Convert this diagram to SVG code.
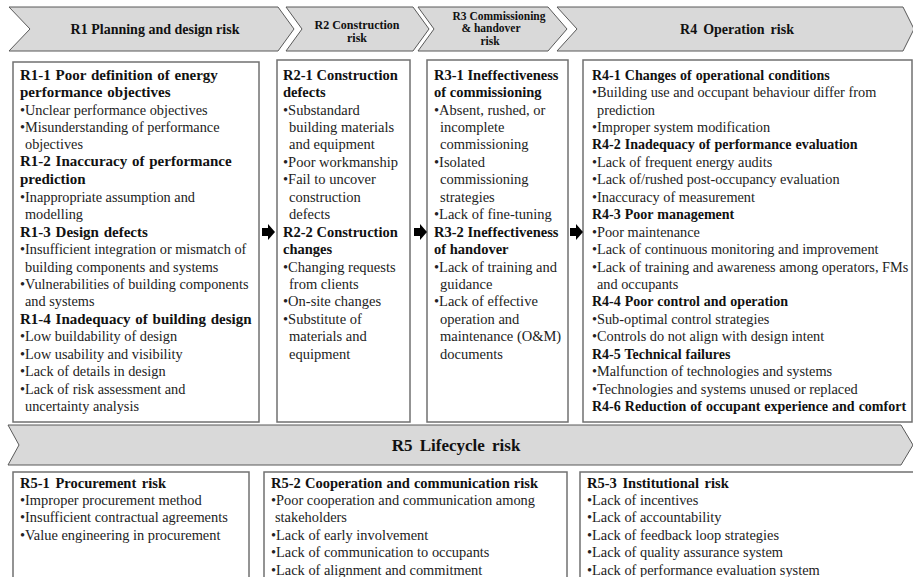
<svg xmlns="http://www.w3.org/2000/svg" width="913" height="577" viewBox="0 0 913 577">
<style>
.chev{fill:#d9d9d9;stroke:#595959;stroke-width:1}
.box{fill:#fff;stroke:#707070;stroke-width:1.5}
text{font-family:"Liberation Serif","Times New Roman",serif;fill:#111}
.ht{font-weight:bold;font-size:13.5px;text-anchor:middle}
.hs{font-weight:bold;font-size:12px;text-anchor:middle}
.h{font-weight:bold;font-size:15px;word-spacing:1px}
.h4{font-weight:bold;font-size:14px;word-spacing:0.5px}
.b{font-size:14.3px;fill:#222}
.h2{font-weight:bold;font-size:14.5px}
.b2{font-size:14.5px;fill:#222}
.h5{font-weight:bold;font-size:14.5px;word-spacing:2px}
.b5{font-size:14.4px;fill:#222}
.arr{fill:#000}
</style>
<rect width="913" height="577" fill="#fff"/>
<g id="R1-head"><path class="chev" d="M9,7 L278,7 L294,29 L278,51 L9,51 L30,29 Z"/><text class="ht" x="155" y="34" style="font-size:14px">R1 Planning and design risk</text></g>
<g id="R2-head"><path class="chev" d="M286,7 L413,7 L429,29 L413,51 L286,51 L302,29 Z"/><text class="hs" x="357" y="29">R2 Construction</text><text class="hs" x="357" y="42">risk</text></g>
<g id="R3-head"><path class="chev" d="M418,7 L548,7 L567,29 L548,51 L418,51 L434,29 Z"/><text class="hs" x="499" y="20" style="font-size:11.5px">R3 Commissioning</text><text class="hs" x="491" y="32" style="font-size:11.5px">&amp; handover</text><text class="hs" x="490" y="45" style="font-size:11.5px">risk</text></g>
<g id="R4-head"><path class="chev" d="M557,7 L903,7 L914,29 L903,51 L557,51 L577,29 Z"/><text class="ht" x="737" y="34" style="font-size:14px;word-spacing:2.5px">R4 Operation risk</text></g>

<g id="R1">
<rect class="box" x="13" y="62" width="246" height="360"/>
<text x="20"><tspan class="h" y="80">R1-1 Poor definition of energy</tspan><tspan class="h" x="20" y="97">performance objectives</tspan>
<tspan class="b" x="20" y="115">•Unclear performance objectives</tspan>
<tspan class="b" x="20" y="132">•Misunderstanding of performance</tspan>
<tspan class="b" x="25" y="149">objectives</tspan>
<tspan class="h" x="20" y="166">R1-2 Inaccuracy of performance</tspan>
<tspan class="h" x="20" y="184">prediction</tspan>
<tspan class="b" x="20" y="202">•Inappropriate assumption and</tspan>
<tspan class="b" x="25" y="219">modelling</tspan>
<tspan class="h" x="20" y="237">R1-3 Design defects</tspan>
<tspan class="b" x="20" y="254">•Insufficient integration or mismatch of</tspan>
<tspan class="b" x="25" y="272">building components and systems</tspan>
<tspan class="b" x="20" y="289">•Vulnerabilities of building components</tspan>
<tspan class="b" x="25" y="306">and systems</tspan>
<tspan class="h" x="20" y="324">R1-4 Inadequacy of building design</tspan>
<tspan class="b" x="20" y="341">•Low buildability of design</tspan>
<tspan class="b" x="20" y="359">•Low usability and visibility</tspan>
<tspan class="b" x="20" y="376">•Lack of details in design</tspan>
<tspan class="b" x="20" y="394">•Lack of risk assessment and</tspan>
<tspan class="b" x="25" y="411">uncertainty analysis</tspan></text>
</g>

<g id="R2">
<rect class="box" x="277" y="60" width="133" height="362"/>
<text x="283"><tspan class="h2" y="80">R2-1 Construction</tspan><tspan class="h2" x="283" y="97">defects</tspan>
<tspan class="b2" x="283" y="115">•Substandard</tspan>
<tspan class="b2" x="289" y="132">building materials</tspan>
<tspan class="b2" x="289" y="149">and equipment</tspan>
<tspan class="b2" x="283" y="167">•Poor workmanship</tspan>
<tspan class="b2" x="283" y="184">•Fail to uncover</tspan>
<tspan class="b2" x="289" y="202">construction</tspan>
<tspan class="b2" x="289" y="219">defects</tspan>
<tspan class="h2" x="283" y="237">R2-2 Construction</tspan>
<tspan class="h2" x="283" y="254">changes</tspan>
<tspan class="b2" x="283" y="272">•Changing requests</tspan>
<tspan class="b2" x="289" y="289">from clients</tspan>
<tspan class="b2" x="283" y="306">•On-site changes</tspan>
<tspan class="b2" x="283" y="324">•Substitute of</tspan>
<tspan class="b2" x="289" y="341">materials and</tspan>
<tspan class="b2" x="289" y="359">equipment</tspan></text>
</g>

<g id="R3">
<rect class="box" x="427" y="60" width="141" height="362"/>
<text x="434"><tspan class="h2" y="80">R3-1 Ineffectiveness</tspan><tspan class="h2" x="434" y="97">of commissioning</tspan>
<tspan class="b2" x="434" y="115">•Absent, rushed, or</tspan>
<tspan class="b2" x="440" y="132">incomplete</tspan>
<tspan class="b2" x="440" y="149">commissioning</tspan>
<tspan class="b2" x="434" y="167">•Isolated</tspan>
<tspan class="b2" x="440" y="184">commissioning</tspan>
<tspan class="b2" x="440" y="202">strategies</tspan>
<tspan class="b2" x="434" y="219">•Lack of fine-tuning</tspan>
<tspan class="h2" x="434" y="237">R3-2 Ineffectiveness</tspan>
<tspan class="h2" x="434" y="254">of handover</tspan>
<tspan class="b2" x="434" y="272">•Lack of training and</tspan>
<tspan class="b2" x="440" y="289">guidance</tspan>
<tspan class="b2" x="434" y="306">•Lack of effective</tspan>
<tspan class="b2" x="440" y="324">operation and</tspan>
<tspan class="b2" x="440" y="341">maintenance (O&amp;M)</tspan>
<tspan class="b2" x="440" y="359">documents</tspan></text>
</g>

<g id="R4">
<rect class="box" x="583" y="60" width="329" height="362"/>
<text x="592"><tspan class="h4" y="80">R4-1 Changes of operational conditions</tspan>
<tspan class="b" x="592" y="97">•Building use and occupant behaviour differ from</tspan>
<tspan class="b" x="597" y="115">prediction</tspan>
<tspan class="b" x="592" y="132">•Improper system modification</tspan>
<tspan class="h4" x="592" y="149">R4-2 Inadequacy of performance evaluation</tspan>
<tspan class="b" x="592" y="167">•Lack of frequent energy audits</tspan>
<tspan class="b" x="592" y="184">•Lack of/rushed post-occupancy evaluation</tspan>
<tspan class="b" x="592" y="202">•Inaccuracy of measurement</tspan>
<tspan class="h4" x="592" y="219">R4-3 Poor management</tspan>
<tspan class="b" x="592" y="237">•Poor maintenance</tspan>
<tspan class="b" x="592" y="254">•Lack of continuous monitoring and improvement</tspan>
<tspan class="b" x="592" y="272">•Lack of training and awareness among operators, FMs</tspan>
<tspan class="b" x="597" y="289">and occupants</tspan>
<tspan class="h4" x="592" y="306">R4-4 Poor control and operation</tspan>
<tspan class="b" x="592" y="324">•Sub-optimal control strategies</tspan>
<tspan class="b" x="592" y="341">•Controls do not align with design intent</tspan>
<tspan class="h4" x="592" y="359">R4-5 Technical failures</tspan>
<tspan class="b" x="592" y="376">•Malfunction of technologies and systems</tspan>
<tspan class="b" x="592" y="394">•Technologies and systems unused or replaced</tspan>
<tspan class="h4" x="592" y="411">R4-6 Reduction of occupant experience and comfort</tspan></text>
</g>

<g id="connectors">
<path class="arr" d="M262,228 L268,228 L268,224 L275,232 L268,240 L268,236 L262,236 Z"/>
<path class="arr" d="M414,228 L420,228 L420,224 L427,232 L420,240 L420,236 L414,236 Z"/>
<path class="arr" d="M570,228 L576,228 L576,224 L583,232 L576,240 L576,236 L570,236 Z"/>
</g>

<g id="R5-head"><path class="chev" d="M8,425 L901,425 L913,445 L901,465 L8,465 L19,445 Z"/><text class="ht" x="456" y="451" style="font-size:17px;word-spacing:3px">R5 Lifecycle risk</text></g>

<g id="R5-1">
<rect class="box" x="13" y="472" width="236" height="120"/>
<text x="20"><tspan class="h5" y="488">R5-1 Procurement risk</tspan>
<tspan class="b5" x="20" y="505">•Improper procurement method</tspan>
<tspan class="b5" x="20" y="522">•Insufficient contractual agreements</tspan>
<tspan class="b5" x="20" y="540">•Value engineering in procurement</tspan></text>
</g>
<g id="R5-2">
<rect class="box" x="264" y="472" width="303" height="120"/>
<text x="271"><tspan class="h5" y="488" style="word-spacing:0.5px">R5-2 Cooperation and communication risk</tspan>
<tspan class="b5" x="271" y="505">•Poor cooperation and communication among</tspan>
<tspan class="b5" x="275" y="522">stakeholders</tspan>
<tspan class="b5" x="271" y="540">•Lack of early involvement</tspan>
<tspan class="b5" x="271" y="557">•Lack of communication to occupants</tspan>
<tspan class="b5" x="271" y="575">•Lack of alignment and commitment</tspan></text>
</g>
<g id="R5-3">
<rect class="box" x="580" y="472" width="340" height="120"/>
<text x="587"><tspan class="h5" y="488">R5-3 Institutional risk</tspan>
<tspan class="b5" x="587" y="505">•Lack of incentives</tspan>
<tspan class="b5" x="587" y="522">•Lack of accountability</tspan>
<tspan class="b5" x="587" y="540">•Lack of feedback loop strategies</tspan>
<tspan class="b5" x="587" y="557">•Lack of quality assurance system</tspan>
<tspan class="b5" x="587" y="575">•Lack of performance evaluation system</tspan></text>
</g>
</svg>
